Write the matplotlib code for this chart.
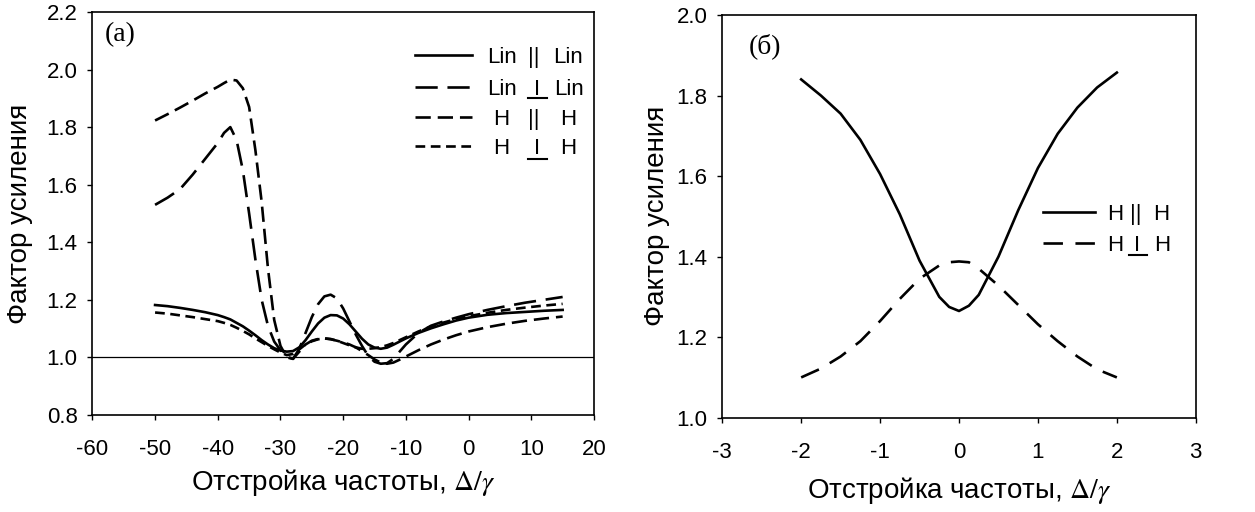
import numpy as np
import matplotlib
matplotlib.use('Agg')
import matplotlib.pyplot as plt

plt.rcParams['font.family'] = ['Liberation Sans', 'DejaVu Sans']
plt.rcParams['lines.scale_dashes'] = False
plt.rcParams['axes.unicode_minus'] = False
plt.rcParams['mathtext.fontset'] = 'stix'

# panel (a): detuning and gain factor for the four polarisation cases
x_a = [-50, -48, -46, -44, -42, -40, -39, -38, -37, -36, -35, -34, -33, -32, -31, -30,
       -29, -28, -27, -26, -25, -24, -23, -22, -21, -20, -19, -18, -17, -16, -15, -14,
       -13, -12, -11, -10, -8, -6, -4, -2, 0, 3, 6, 9, 12, 15]
lin_par = [1.182, 1.178, 1.172, 1.165, 1.157, 1.147, 1.140, 1.132, 1.120, 1.108, 1.093, 1.077,
           1.060, 1.045, 1.032, 1.024, 1.020, 1.022, 1.035, 1.060, 1.090, 1.118, 1.138, 1.147,
           1.146, 1.135, 1.115, 1.090, 1.065, 1.045, 1.034, 1.030, 1.034, 1.044, 1.055, 1.066,
           1.085, 1.101, 1.115, 1.128, 1.138, 1.148, 1.154, 1.158, 1.162, 1.165]
lin_perp = [1.53, 1.555, 1.585, 1.635, 1.690, 1.745, 1.780, 1.800, 1.755, 1.650, 1.500, 1.340,
            1.200, 1.110, 1.055, 1.025, 1.003, 0.995, 1.030, 1.085, 1.140, 1.185, 1.212, 1.218,
            1.205, 1.170, 1.125, 1.080, 1.040, 1.005, 0.985, 0.978, 0.980, 0.995, 1.020, 1.045,
            1.085, 1.110, 1.125, 1.138, 1.150, 1.165, 1.178, 1.190, 1.200, 1.210]
h_par = [1.823, 1.845, 1.868, 1.892, 1.917, 1.940, 1.953, 1.965, 1.962, 1.935, 1.870, 1.720,
         1.540, 1.310, 1.130, 1.040, 1.000, 0.995, 1.020, 1.045, 1.058, 1.064, 1.066, 1.063,
         1.058, 1.052, 1.045, 1.035, 1.022, 1.008, 0.993, 0.982, 0.978, 0.982, 0.992, 1.003,
         1.025, 1.045, 1.062, 1.077, 1.090, 1.105, 1.117, 1.127, 1.135, 1.142]
h_perp = [1.156, 1.152, 1.146, 1.140, 1.133, 1.126, 1.120, 1.113, 1.103, 1.092, 1.080, 1.066,
          1.053, 1.040, 1.028, 1.017, 1.008, 1.012, 1.028, 1.045, 1.056, 1.063, 1.066, 1.064,
          1.058, 1.050, 1.042, 1.035, 1.030, 1.030, 1.032, 1.036, 1.042, 1.050, 1.060, 1.070,
          1.090, 1.107, 1.121, 1.133, 1.143, 1.155, 1.165, 1.173, 1.180, 1.186]

# panel (б)
x_b = [-2, -1.75, -1.5, -1.25, -1, -0.75, -0.5, -0.25, -0.125, 0, 0.125, 0.25, 0.5, 0.75,
       1, 1.25, 1.5, 1.75, 2]
hb_par = [1.840, 1.800, 1.755, 1.690, 1.605, 1.505, 1.390, 1.300, 1.275, 1.265, 1.278, 1.305,
          1.400, 1.515, 1.620, 1.705, 1.770, 1.820, 1.857]
hb_perp = [1.100, 1.122, 1.152, 1.190, 1.240, 1.295, 1.345, 1.378, 1.386, 1.388, 1.386, 1.370,
           1.328, 1.280, 1.232, 1.190, 1.152, 1.120, 1.100]

ylabel = 'Фактор усиления'
xlabel = r'Отстройка частоты, $\mathit{\Delta}/\gamma$'

LW = 1.9
dash_long = (0, (16, 7))
dash_med = (0, (11, 5))
dash_short = (0, (7, 4))
dash_b = (0, (14, 9))

fig = plt.figure(figsize=(12.55, 5.12), dpi=100)
ax1 = fig.add_axes([0.0736, 0.1895, 0.3997, 0.7871])
ax2 = fig.add_axes([0.5755, 0.1842, 0.3773, 0.7865])


def style_axes(ax, xlab_y):
    for s in ax.spines.values():
        s.set_linewidth(1.2)
    ax.tick_params(direction='out', length=3.6, width=1.0, labelsize=16)
    ax.tick_params(axis='x', pad=14)
    ax.tick_params(axis='y', pad=7)
    ax.set_xlabel(xlabel, fontsize=20)
    ax.set_ylabel(ylabel, fontsize=20)
    ax.xaxis.label.set_va('center')
    ax.yaxis.label.set_va('center')
    ax.xaxis.set_label_coords(0.5, xlab_y)


def legend_row(ax, y, x0, x1, ls, left, mid, right, xl, xm, xr, underline=None):
    ax.plot([x0, x1], [y, y], color='black', lw=LW, linestyle=ls, transform=ax.transAxes,
            clip_on=False)
    kw = dict(transform=ax.transAxes, fontsize=16, va='center_baseline')
    ax.text(xl, y, left, ha='left', **kw)
    ax.text(xm, y, mid, ha='center', **kw)
    ax.text(xr, y, right, ha='left', **kw)
    if underline is not None:
        ax.plot([underline[0], underline[1]], [underline[2], underline[2]], color='black',
                lw=1.5, transform=ax.transAxes, clip_on=False)


# (a)
ax1.axhline(1.0, color='black', lw=0.9)
ax1.plot(x_a, lin_par, color='black', lw=LW, linestyle='-')
ax1.plot(x_a, lin_perp, color='black', lw=LW, linestyle=dash_long)
ax1.plot(x_a, h_par, color='black', lw=LW, linestyle=dash_med)
ax1.plot(x_a, h_perp, color='black', lw=LW, linestyle=dash_short)
ax1.set_xlim(-60, 20)
ax1.set_ylim(0.8, 2.2)
ax1.set_xticks(np.arange(-60, 21, 10))
ax1.set_yticks(np.arange(0.8, 2.21, 0.2))
ax1.set_yticklabels(['%.1f' % v for v in np.arange(0.8, 2.21, 0.2)])
style_axes(ax1, -0.168)
ax1.yaxis.set_label_coords(-0.144, 0.5)
ax1.text(0.025, 0.975, '(a)', transform=ax1.transAxes, fontsize=20, va='top', ha='left',
         family='Liberation Serif')

legend_row(ax1, 0.893, 0.643, 0.757, '-', 'Lin', '||', 'Lin', 0.787, 0.880, 0.918)
legend_row(ax1, 0.814, 0.643, 0.757, dash_long, 'Lin', 'I', 'Lin', 0.787, 0.886, 0.920,
           underline=(0.868, 0.906, 0.786))
legend_row(ax1, 0.740, 0.643, 0.757, dash_med, 'H', '||', 'H', 0.799, 0.880, 0.932)
legend_row(ax1, 0.667, 0.643, 0.757, dash_short, 'H', 'I', 'H', 0.799, 0.886, 0.932,
           underline=(0.868, 0.906, 0.636))

# (б)
ax2.plot(x_b, hb_par, color='black', lw=LW, linestyle='-')
ax2.plot(x_b, hb_perp, color='black', lw=LW, linestyle=dash_b)
ax2.set_xlim(-3, 3)
ax2.set_ylim(1.0, 2.0)
ax2.set_xticks(np.arange(-3, 4, 1))
ax2.set_yticks(np.arange(1.0, 2.01, 0.2))
ax2.set_yticklabels(['%.1f' % v for v in np.arange(1.0, 2.01, 0.2)])
style_axes(ax2, -0.18)
ax2.yaxis.set_label_coords(-0.138, 0.5)
ax2.text(0.055, 0.955, '(б)', transform=ax2.transAxes, fontsize=20, va='top', ha='left',
         family='Liberation Serif')

legend_row(ax2, 0.511, 0.677, 0.787, '-', 'H', '||', 'H', 0.813, 0.874, 0.910)
legend_row(ax2, 0.434, 0.677, 0.787, dash_b, 'H', 'I', 'H', 0.813, 0.876, 0.912,
           underline=(0.860, 0.898, 0.404))

fig.savefig('out.png', dpi=100)
